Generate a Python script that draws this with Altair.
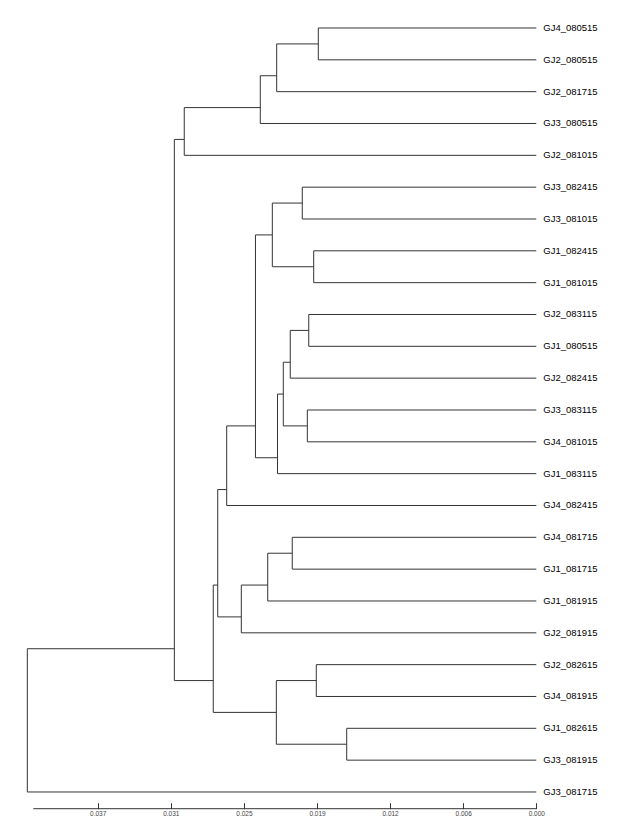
import altair as alt
import pandas as pd

# Leaves, top to bottom
leaves = [
    "GJ4_080515", "GJ2_080515", "GJ2_081715", "GJ3_080515", "GJ2_081015",
    "GJ3_082415", "GJ3_081015", "GJ1_082415", "GJ1_081015", "GJ2_083115",
    "GJ1_080515", "GJ2_082415", "GJ3_083115", "GJ4_081015", "GJ1_083115",
    "GJ4_082415", "GJ4_081715", "GJ1_081715", "GJ1_081915", "GJ2_081915",
    "GJ2_082615", "GJ4_081915", "GJ1_082615", "GJ3_081915", "GJ3_081715",
]

# Internal nodes: name, children, merge height, vertical position of connector (leaf units)
node_names = ["A", "B", "C", "D", "F", "G", "H", "I", "J", "K", "L", "M", "N", "O",
              "P", "Q", "S", "W", "R", "T", "U", "X", "E", "Root"]
node_left = ["GJ4_080515", "A", "B", "C", "GJ3_082415", "GJ1_082415", "F", "GJ2_083115",
             "I", "GJ3_083115", "J", "L", "H", "N", "GJ4_081715", "P", "Q", "O",
             "GJ2_082615", "GJ1_082615", "R", "W", "D", "E"]
node_right = ["GJ2_080515", "GJ2_081715", "GJ3_080515", "GJ2_081015", "GJ3_081015",
              "GJ1_081015", "G", "GJ1_080515", "GJ2_082415", "GJ4_081015", "K",
              "GJ1_083115", "M", "GJ4_082415", "GJ1_081715", "GJ1_081915", "GJ2_081915",
              "S", "GJ4_081915", "GJ3_081915", "T", "U", "X", "GJ3_081715"]
node_height = [0.01849, 0.02202, 0.02341, 0.02986, 0.01985, 0.01888, 0.02239, 0.01930,
               0.02087, 0.01942, 0.02146, 0.02195, 0.02382, 0.02626, 0.02070, 0.02278,
               0.02502, 0.02702, 0.01866, 0.01608, 0.02205, 0.02740, 0.03070, 0.04317]
node_pos = [0.5, 1.5, 2.5, 3.5, 5.5, 7.5, 6.5, 9.5, 10.5, 12.5, 11.5, 13.5, 12.5, 14.5,
            16.5, 17.5, 18.5, 17.5, 20.5, 22.5, 21.5, 20.5, 19.5, 23.5]

# Axis
tick_values = [0.0, 0.0062, 0.0124, 0.0186, 0.0248, 0.0310, 0.0372]
axis_extent = 0.04266
x_max = 0.044385

pos = {name: i for i, name in enumerate(leaves)}
hgt = {name: 0.0 for name in leaves}
for n, h, p in zip(node_names, node_height, node_pos):
    pos[n] = p
    hgt[n] = h

rows = []
for n, l, r in zip(node_names, node_left, node_right):
    h = hgt[n]
    rows.append({"x": h, "x2": h, "y": pos[l], "y2": pos[r]})
    for c in (l, r):
        rows.append({"x": hgt[c], "x2": h, "y": pos[c], "y2": pos[c]})
seg = pd.DataFrame(rows)

leaf_df = pd.DataFrame({"name": leaves, "x": [0.0] * len(leaves), "y": list(range(len(leaves)))})
axis_df = pd.DataFrame({"x": [0.0], "x2": [axis_extent]})

W = 523.3
H = 795.7

x_scale = alt.Scale(domain=[0, x_max], reverse=True, nice=False, zero=False)
y_scale = alt.Scale(domain=[-0.4712, 24.525], reverse=True, nice=False, zero=False)

tree = alt.Chart(seg).mark_rule(color="#333333", strokeWidth=1).encode(
    x=alt.X("x:Q", scale=x_scale,
            axis=alt.Axis(values=tick_values, format=".3f", domain=False, grid=False,
                          tickSize=6, offset=-6, labelFontSize=6.5, labelPadding=2,
                          labelFlush=False, labelFont="Liberation Sans",
                          labelColor="#444444", tickColor="#333333", title=None)),
    x2="x2:Q",
    y=alt.Y("y:Q", scale=y_scale, axis=None),
    y2="y2:Q",
)

axis_line = alt.Chart(axis_df).mark_rule(color="#333333", strokeWidth=1).encode(
    x=alt.X("x:Q", scale=x_scale),
    x2="x2:Q",
    y=alt.value(H),
)

labels = alt.Chart(leaf_df).mark_text(
    align="left", baseline="middle", dx=7, fontSize=9.5, font="Liberation Sans", color="#000000"
).encode(
    x=alt.X("x:Q", scale=x_scale),
    y=alt.Y("y:Q", scale=y_scale),
    text="name:N",
)

chart = alt.layer(tree, axis_line, labels).properties(
    width=W, height=H
).configure_view(stroke=None)

chart.save("out.html", embed_options={"renderer": "svg", "actions": False})
